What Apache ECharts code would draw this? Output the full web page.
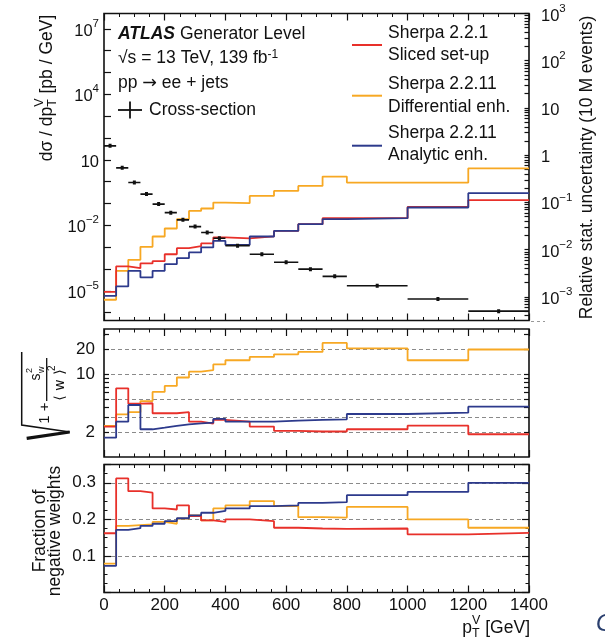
<!DOCTYPE html>
<html><head><meta charset="utf-8">
<script src="https://cdn.jsdelivr.net/npm/echarts@6/dist/echarts.min.js"></script>
<style>html,body{margin:0;padding:0;background:#fff;}#c{width:605px;height:639px;}</style>
</head><body><div id="c"></div>
<script>
// ---------------- data ----------------
const binEdges = [0,40,80,120,160,200,240,280,320,360,400,480,560,640,720,800,1000,1200,1400];
// d sigma / d pT  [pb/GeV]
const crossSection = [43.6,4.27,0.912,0.269,0.0933,0.038,0.0178,0.0087,0.00468,0.00257,0.00117,4.7e-4,2.04e-4,9.8e-5,4.6e-5,1.7e-5,4.2e-6,1.17e-6];
// relative stat. uncertainty (10 M events)
const relUncSliced       = [1.28e-3,4.42e-3,4.06e-3,5.10e-3,5.7e-3,8.0e-3,0.01076,0.01186,0.01352,0.01811,0.01725,0.01901,0.02494,0.03459,0.04634,0.04634,0.0804,0.1114];
const relUncDifferential = [8.69e-4,3.56e-3,6.08e-3,0.01146,0.01901,0.02806,0.04416,0.0661,0.0743,0.0995,0.0962,0.1371,0.1750,0.2234,0.3532,0.2636,0.2636,0.5284];
const relUncAnalytic     = [1.054e-3,1.667e-3,3.56e-3,2.58e-3,3.56e-3,4.93e-3,6.6e-3,8.72e-3,0.01114,0.01535,0.01262,0.01901,0.02494,0.03459,0.04416,0.04634,0.0780,0.1567];
// sqrt(1 + s_w^2/<w>^2)
const effSliced       = [2.33,6.73,4.4,4.45,3.37,3.37,3.47,2.67,2.53,2.80,2.67,2.33,2.07,2.03,2.03,2.16,2.39,1.88];
const effDifferential = [2.37,3.27,3.47,4.73,6.1,7.2,9.1,10.7,11.2,13.1,14.7,16.1,17.3,18.5,23.8,20.4,14.7,19.8];
const effAnalytic     = [1.71,2.67,4.24,2.16,2.26,2.37,2.48,2.55,2.60,2.88,2.67,2.67,2.75,2.80,2.85,3.30,3.43,4.05];
// fraction of negative weights
const negSliced       = [0.162,0.312,0.277,0.273,0.230,0.227,0.238,0.209,0.197,0.193,0.200,0.195,0.177,0.175,0.174,0.175,0.159,0.163];
const negDifferential = [0.079,0.182,0.184,0.186,0.193,0.188,0.202,0.211,0.197,0.230,0.238,0.250,0.236,0.206,0.205,0.234,0.200,0.177];
const negAnalytic     = [0.073,0.171,0.176,0.182,0.188,0.195,0.203,0.211,0.218,0.223,0.230,0.236,0.238,0.245,0.247,0.266,0.275,0.300];
// tick labels
const topLeftLabelExps  = [-5,-2,1,4,7];
const topRightLabelExps = [-3,-2,-1,0,1,2,3];
const midLabels = [2,10,20];
const midGridValues = [2,3,5,10,20];
const midTickValues = [2,3,4,5,6,7,8,9,10,20,30];
const bottomLabels = [0.1,0.2,0.3];

// ---------------- chart ----------------
const FONT = "'Liberation Sans', Arial, Helvetica, sans-serif";
const TXT = '#111';
const RED = '#e8302a', ORANGE = '#f7a823', BLUE = '#2d3a8c';
const L = Math.log10;
const TL_MIN = -6.36, TL_MAX = 7.70;   // log10 of left axis extent
const TR_MIN = -3.5, TR_MAX = 3.0;     // log10 of right axis extent
const M_MIN = 0, M_MAX = L(35);

const mctx = document.createElement('canvas').getContext('2d');
function tw(t, size, extra){ mctx.font = (extra||'') + size + 'px ' + FONT; return mctx.measureText(t).width; }

function stepData(vals, f){
  const d = vals.map((v,i)=>[binEdges[i], f(v)]);
  d.push([binEdges[binEdges.length-1], f(vals[vals.length-1])]);
  return d;
}
function lineSeries(name, vals, color, xi, yi, f){
  return {type:'line', name, xAxisIndex:xi, yAxisIndex:yi, data:stepData(vals,f), step:'end',
    symbol:'none', showSymbol:false, silent:true, clip:true, z:3,
    lineStyle:{color, width:1.8}, itemStyle:{color}};
}
const tickStyle = {color:TXT, width:1.2};
const noLine = {show:false, onZero:false};
function xAx(g, pos, labels){
  return {type:'value', gridIndex:g, position:pos, min:0, max:1400, interval:200,
    axisLine:noLine, splitLine:{show:false},
    axisTick:{show:true, inside:true, length:7, lineStyle:tickStyle},
    minorTick:{show:true, splitNumber:4, length:3.5, lineStyle:{color:TXT, width:1}},
    axisLabel:{show:labels, margin:4, fontSize:17, color:TXT, fontFamily:FONT, hideOverlap:false,
      formatter:v=>String(Math.round(v))}};
}
const RICH = {
  b:{fontSize:16.5, fontFamily:FONT, color:TXT, lineHeight:22, verticalAlign:'bottom'},
  s:{fontSize:11.5, fontFamily:FONT, color:TXT, lineHeight:13, verticalAlign:'top'}
};
function powLabel(v){
  const e = Math.round(v);
  if (e === 0) return '{b|1}';
  if (e === 1) return '{b|10}';
  return '{b|10}{s|' + (e < 0 ? '\u2212' + (-e) : String(e)) + '}';
}
const topLeftTicks = []; for (let e=-6;e<=7;e++) topLeftTicks.push(e);
const topRightTicks = [];
for (let d=-4; d<=3; d++) for (let m=1; m<=9; m++){ const v = d + L(m); if (v>=TR_MIN-1e-9 && v<=TR_MAX+1e-9) topRightTicks.push(v); }
const hidden = {axisLine:noLine, axisTick:{show:false}, axisLabel:{show:false}, splitLine:{show:false}};
const dashed = {show:true, lineStyle:{color:'#8a8a8a', type:[4,3], width:1}};

const yAxis = [
  // 0: top-left (cross-section)
  {type:'value', gridIndex:0, position:'left', min:TL_MIN, max:TL_MAX,
    axisLine:noLine, splitLine:{show:false},
    axisTick:{show:true, inside:true, length:7, customValues:topLeftTicks, lineStyle:tickStyle},
    axisLabel:{show:true, customValues:topLeftLabelExps, margin:5, formatter:powLabel, rich:RICH}},
  // 1: top-right (relative stat. uncertainty)
  {type:'value', gridIndex:0, position:'right', min:TR_MIN, max:TR_MAX,
    axisLine:noLine, splitLine:{show:false},
    axisTick:{show:true, inside:true, length:4.5, customValues:topRightTicks, lineStyle:tickStyle},
    axisLabel:{show:true, customValues:topRightLabelExps, margin:12, formatter:powLabel, rich:RICH}},
  // 2: middle left
  {type:'value', gridIndex:1, position:'left', min:M_MIN, max:M_MAX,
    axisLine:noLine, splitLine:{show:false},
    axisTick:{show:true, inside:true, length:5, customValues:midTickValues.map(L), lineStyle:tickStyle},
    axisLabel:{show:true, customValues:midLabels.map(L), margin:9, fontSize:17, color:TXT, fontFamily:FONT,
      formatter:v=>String(Math.round(Math.pow(10,v)))}},
  // 3: middle right ticks
  {type:'value', gridIndex:1, position:'right', min:M_MIN, max:M_MAX,
    axisLine:noLine, splitLine:{show:false}, axisLabel:{show:false},
    axisTick:{show:true, inside:true, length:5, customValues:midTickValues.map(L), lineStyle:tickStyle}},
  // 4: middle grid lines
  Object.assign({type:'value', gridIndex:1, min:M_MIN, max:M_MAX}, hidden,
    {axisTick:{show:false, customValues:midGridValues.map(L)}, splitLine:dashed}),
  // 5: bottom left
  {type:'value', gridIndex:2, position:'left', min:0, max:0.35, interval:0.1,
    axisLine:noLine, splitLine:{show:false},
    axisTick:{show:true, inside:true, length:7, lineStyle:tickStyle},
    minorTick:{show:true, splitNumber:4, length:3.5, lineStyle:{color:TXT, width:1}},
    axisLabel:{show:true, customValues:bottomLabels, margin:8, fontSize:17, color:TXT, fontFamily:FONT,
      formatter:v=>v.toFixed(1)}},
  // 6: bottom right ticks
  {type:'value', gridIndex:2, position:'right', min:0, max:0.35, interval:0.1,
    axisLine:noLine, splitLine:{show:false}, axisLabel:{show:false},
    axisTick:{show:true, inside:true, length:7, lineStyle:tickStyle},
    minorTick:{show:true, splitNumber:4, length:3.5, lineStyle:{color:TXT, width:1}}},
  // 7: bottom grid lines
  Object.assign({type:'value', gridIndex:2, min:0, max:0.35}, hidden,
    {axisTick:{show:false, customValues:bottomLabels}, splitLine:dashed})
];

const gridBase = {show:true, borderColor:'#111', borderWidth:1.6, backgroundColor:'transparent', containLabel:false, outerBoundsMode:'none'};

// ---------- graphic texts ----------
const F = 17.5;
function T(x, y, text, extra){
  return Object.assign({type:'text', x, y, silent:true,
    style:Object.assign({text, fontSize:F, fontFamily:FONT, fill:TXT, align:'left', verticalAlign:'middle'}, extra||{})});
}
const g = [];
// ATLAS block
g.push(T(118, 34.3, '{a|ATLAS} Generator Level', {rich:{a:{fontSize:F, fontFamily:FONT, fontWeight:'bold', fontStyle:'italic', fill:TXT}}}));
g.push(T(118, 58.3, '\u221As = 13 TeV, 139 fb{s|-1}', {rich:{s:{fontSize:12, fontFamily:FONT, fill:TXT, verticalAlign:'top', lineHeight:12}}, lineHeight:20}));
g.push(T(118, 83.3, 'pp {ar|\u2192} ee + jets', {rich:{ar:{fontSize:F, fontFamily:"'DejaVu Sans', sans-serif", fill:TXT}}}));
g.push({type:'line', silent:true, shape:{x1:118,y1:110,x2:142,y2:110}, style:{stroke:TXT, lineWidth:1.8}});
g.push({type:'line', silent:true, shape:{x1:130,y1:101.5,x2:130,y2:118.5}, style:{stroke:TXT, lineWidth:1.8}});
g.push(T(149, 110, 'Cross-section'));
// legend
const leg = [[RED,45,'Sherpa 2.2.1','Sliced set-up',33.3,55.5],[ORANGE,95.7,'Sherpa 2.2.11','Differential enh.',84.5,106.7],[BLUE,145.7,'Sherpa 2.2.11','Analytic enh.',132.7,155]];
leg.forEach(([c,ly,t1,t2,y1,y2])=>{
  g.push({type:'line', silent:true, shape:{x1:352,y1:ly,x2:382,y2:ly}, style:{stroke:c, lineWidth:2}});
  g.push(T(388, y1, t1)); g.push(T(388, y2, t2));
});
// left-top y title: dσ / dp_T^V [pb / GeV]
(function(){
  const p1 = 'd\u03C3 / dp', p3 = ' [pb / GeV]', ss = 12.5;
  const w1 = tw(p1, F), w2 = Math.max(tw('V', ss), tw('T', ss)), w3 = tw(p3, F);
  const W = w1 + w2 + w3, x0 = -W/2;
  g.push({type:'group', x:47, y:88, rotation:Math.PI/2, silent:true, children:[
    T(x0, 0, p1), T(x0 + w1, -7, 'V', {fontSize:ss}), T(x0 + w1, 5.5, 'T', {fontSize:ss}), T(x0 + w1 + w2, 0, p3)
  ]});
})();
// right y title
g.push({type:'text', x:587, y:167.5, rotation:Math.PI/2, silent:true,
  style:{text:'Relative stat. uncertainty (10 M events)', fontSize:F, fontFamily:FONT, fill:TXT, align:'center', verticalAlign:'middle'}});
// middle y title: sqrt(1 + s_w^2/<w>^2)
g.push({type:'group', x:21.7, y:442, rotation:Math.PI/2, silent:true, children:[
  {type:'polyline', shape:{points:[[3.7,5],[10,48]]}, style:{stroke:TXT, lineWidth:3.2, fill:null}},
  {type:'polyline', shape:{points:[[10,48],[17,0],[90,0]]}, style:{stroke:TXT, lineWidth:1.5, fill:null}},
  T(29, 23, '1 +', {fontSize:15, align:'center'}),
  {type:'line', shape:{x1:41,y1:25,x2:84,y2:25}, style:{stroke:TXT, lineWidth:1.3}},
  T(65, 14, 's', {fontSize:14, align:'center'}),
  T(69, 19.5, 'w', {fontSize:9}),
  T(69, 8, '2', {fontSize:9}),
  T(57, 39, '\u27E8 w \u27E9', {fontSize:14, align:'center', fontFamily:"'DejaVu Sans', sans-serif"}),
  T(71, 30.5, '2', {fontSize:10})
]});
// bottom y title
g.push({type:'text', x:48, y:531, rotation:Math.PI/2, silent:true,
  style:{text:'Fraction of\nnegative weights', fontSize:F, fontFamily:FONT, fill:TXT, align:'center', verticalAlign:'middle', lineHeight:15}});
// x title: p_T^V [GeV]
(function(){
  const ss = 12.5, wp = tw('p', F), w2 = Math.max(tw('V', ss), tw('T', ss)), w3 = tw(' [GeV]', F);
  const x0 = 530 - (wp + w2 + w3), y = 628;
  g.push(T(x0, y, 'p')); g.push(T(x0 + wp, y - 7, 'V', {fontSize:ss})); g.push(T(x0 + wp, y + 5.5, 'T', {fontSize:ss}));
  g.push(T(x0 + wp + w2, y, ' [GeV]'));
})();
// dotted stub at the lower right corner of the top panel
g.push({type:'line', silent:true, shape:{x1:531,y1:321.5,x2:545,y2:321.5}, style:{stroke:'#999', lineWidth:1, lineDash:[3,3]}});
// cropped slide letter at the right edge
g.push(T(596, 624, 'G', {fontSize:24, fontStyle:'italic', fill:'#2a3f6e'}));

const option = {
  animation:false,
  backgroundColor:'#ffffff',
  textStyle:{fontFamily:FONT},
  grid:[
    Object.assign({left:104, top:13.5, width:425, height:307}, gridBase),
    Object.assign({left:104, top:329, width:425, height:128}, gridBase),
    Object.assign({left:104, top:464.5, width:425, height:128}, gridBase)
  ],
  xAxis:[xAx(0,'bottom',false), xAx(0,'top',false), xAx(1,'bottom',false), xAx(1,'top',false), xAx(2,'bottom',true), xAx(2,'top',false)],
  yAxis,
  series:[
    {type:'custom', name:'Cross-section', xAxisIndex:0, yAxisIndex:0, clip:true, silent:true, z:4,
      encode:{x:[0,1], y:2},
      data: crossSection.map((v,i)=>[binEdges[i], binEdges[i+1], L(v)]),
      renderItem(params, api){
        const a = api.coord([api.value(0), api.value(2)]);
        const b = api.coord([api.value(1), api.value(2)]);
        const cx = (a[0]+b[0])/2;
        return {type:'group', children:[
          {type:'line', shape:{x1:a[0], y1:a[1], x2:b[0], y2:b[1]}, style:{stroke:TXT, lineWidth:1.6}},
          {type:'rect', shape:{x:cx-1.5, y:a[1]-2, width:3, height:4}, style:{fill:TXT}}
        ]};
      }},
    lineSeries('Differential enh.', relUncDifferential, ORANGE, 0, 1, L),
    lineSeries('Sliced set-up', relUncSliced, RED, 0, 1, L),
    lineSeries('Analytic enh.', relUncAnalytic, BLUE, 0, 1, L),
    lineSeries('Differential enh.', effDifferential, ORANGE, 2, 2, L),
    lineSeries('Sliced set-up', effSliced, RED, 2, 2, L),
    lineSeries('Analytic enh.', effAnalytic, BLUE, 2, 2, L),
    lineSeries('Differential enh.', negDifferential, ORANGE, 4, 5, v=>v),
    lineSeries('Sliced set-up', negSliced, RED, 4, 5, v=>v),
    lineSeries('Analytic enh.', negAnalytic, BLUE, 4, 5, v=>v)
  ],
  graphic:{elements:g}
};
const chart = echarts.init(document.getElementById('c'), null, {renderer:'canvas'});
chart.setOption(option);
</script>
</body></html>
